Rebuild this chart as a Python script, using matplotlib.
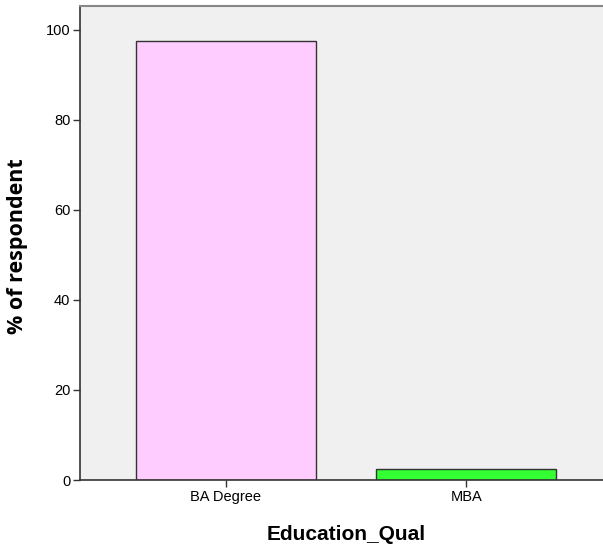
import matplotlib
matplotlib.use("Agg")
import matplotlib.pyplot as plt

categories = ["BA Degree", "MBA"]
values = [97.6, 2.4]
colors = ["#FFCCFF", "#33FF33"]
yticks = [0, 20, 40, 60, 80, 100]

plt.rcParams['font.family'] = ['Liberation Sans', 'DejaVu Sans']

fig = plt.figure(figsize=(6.03, 5.48), dpi=100)
ax = fig.add_axes([80/603, 68/548, (603-80)/603, 474/548])
ax.set_facecolor("#F0F0F0")
x = list(range(len(categories)))
ax.bar(x, values, width=0.75, color=colors, edgecolor="#333333", linewidth=1.0, zorder=2)
ax.set_xlim(-0.608, 1.57)
ax.set_ylim(0, 105.3)
ax.set_xticks(x)
ax.set_xticklabels(categories, fontsize=10.5)
ax.set_yticks(yticks)
ax.set_yticklabels([str(t) for t in yticks], fontsize=10.5)
ax.tick_params(axis='both', direction='out', length=5, width=1, color="#333333", pad=2)
for s in ["left", "bottom"]:
    ax.spines[s].set_color("#333333")
    ax.spines[s].set_linewidth(1.2)
ax.spines["top"].set_color("#888888")
ax.spines["top"].set_linewidth(1.5)
ax.spines["right"].set_visible(False)
ax.set_ylabel("% of respondent", fontsize=15.5, fontweight="bold",
              family=['Open Sans', 'DejaVu Sans'])
ax.yaxis.set_label_coords(-(80 - 18) / 523, (480 - 246) / 474)
ax.set_xlabel("Education_Qual", fontsize=15, fontweight="bold")
ax.xaxis.set_label_coords((346 - 80) / 523, -(535 - 480) / 474)
ax.xaxis.label.set_va("center")
ax.yaxis.label.set_va("center")
fig.savefig("out.png", dpi=100)
